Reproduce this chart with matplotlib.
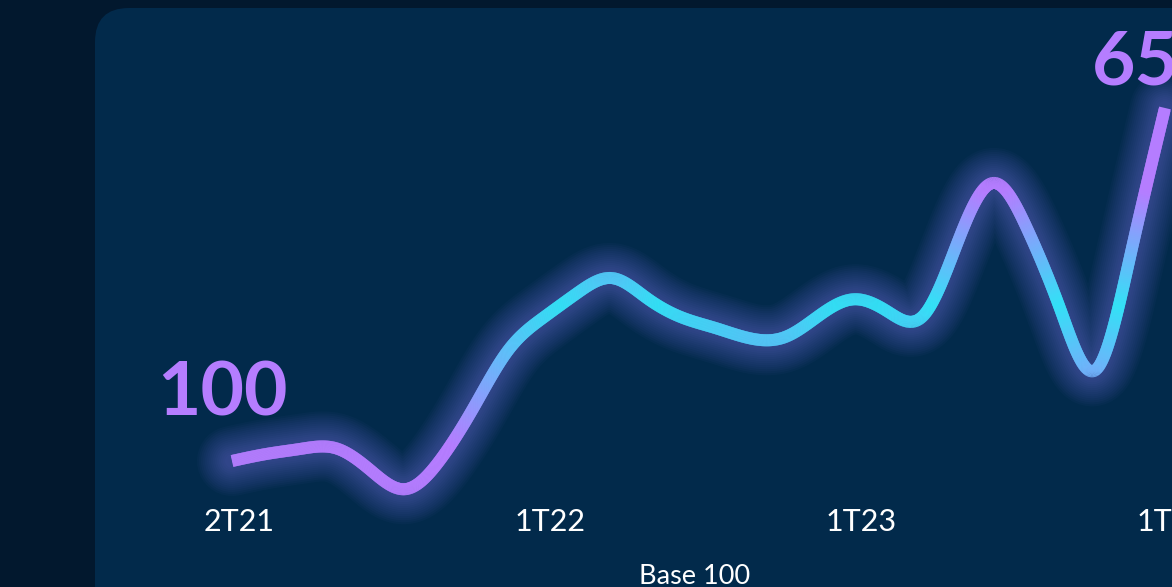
import numpy as np
import matplotlib
matplotlib.use("Agg")
import matplotlib.pyplot as plt
from matplotlib.collections import LineCollection
from matplotlib.colors import LinearSegmentedColormap, Normalize
from matplotlib.patches import FancyBboxPatch
from matplotlib.transforms import IdentityTransform, ScaledTranslation, blended_transform_factory

# ---- data (index, base 100) ----
periods = list(range(28))
values = [100, 111, 119, 120, 86, 56, 100, 184, 273, 323, 362, 385, 354, 324,
          307, 291, 293, 327, 352, 332, 326, 441, 533, 463, 332, 242, 421, 650]
tick_positions = [0, 9, 18, 27]
tick_labels = ["2T21", "1T22", "1T23", "1T24"]
axis_title = "Base 100"

# ---- style ----
BG_OUTER = "#02182e"
BG_PANEL = "#022a4b"
PURPLE = "#b57dff"
CYAN = "#33e1f6"
GLOW = "#8a80ff"
TEXT = "#ffffff"

W, H = 1172, 587
fig = plt.figure(figsize=(W / 100, H / 100), dpi=100)
fig.patch.set_facecolor(BG_OUTER)

panel = FancyBboxPatch((95, -100), 1300, (H - 8) + 100,
                       boxstyle="round,pad=0,rounding_size=34",
                       transform=IdentityTransform(), facecolor=BG_PANEL,
                       edgecolor="none", zorder=0)
fig.add_artist(panel)

ax = fig.add_axes([0, 0, 1, 1])
ax.set_facecolor("none")
ax.axis("off")

# layout in pixels
X0_PX, XSTEP_PX = 232, 34.556
Y100_PX, VAL_PER_PX = 461, 1.558
ax.set_xlim(-X0_PX / XSTEP_PX, (W - X0_PX) / XSTEP_PX)
ax.set_ylim(100 - (H - Y100_PX) * VAL_PER_PX, 100 + Y100_PX * VAL_PER_PX)

# natural cubic spline through the points (drawing only)
x = np.asarray(periods, float)
y = np.asarray(values, float)
n = len(x)
A = np.zeros((n, n))
b = np.zeros(n)
A[0, 0] = A[-1, -1] = 1.0
for i in range(1, n - 1):
    A[i, i - 1], A[i, i], A[i, i + 1] = 1.0, 4.0, 1.0
    b[i] = 6.0 * (y[i + 1] - 2 * y[i] + y[i - 1])
M = np.linalg.solve(A, b)
xs, ys = [], []
for i in range(n - 1):
    t = np.linspace(0, 1, 80, endpoint=False)
    seg = ((1 - t) * y[i] + t * y[i + 1]
           + ((1 - t) ** 3 - (1 - t)) * M[i] / 6.0
           + (t ** 3 - t) * M[i + 1] / 6.0)
    xs.append(x[i] + t)
    ys.append(seg)
xs.append([x[-1]])
ys.append([y[-1]])
xs = np.concatenate(xs)
ys = np.concatenate(ys)

# glow
for w in range(14, 72, 4):
    ax.plot(xs, ys, color=GLOW, lw=w * 0.72, alpha=0.03, solid_capstyle="round",
            solid_joinstyle="round", zorder=2)

# gradient line
cmap = LinearSegmentedColormap.from_list("pc", [(0, PURPLE), (0.55, CYAN), (1, PURPLE)])
norm = Normalize(vmin=125, vmax=522, clip=True)
pts = np.column_stack([xs, ys])
segs = np.stack([pts[:-2], pts[2:]], axis=1)
cvals = (ys[:-2] + ys[2:]) / 2
lc = LineCollection(segs, colors=cmap(norm(cvals)), linewidths=8.6,
                    capstyle="butt", joinstyle="round", zorder=3)
ax.add_collection(lc)

# value labels at start and end
ax.annotate(f"{values[0]}", (periods[0], values[0]), xytext=(-10, 45),
            textcoords="offset pixels", ha="center", va="baseline",
            fontsize=54, fontweight="bold", family="Lato", color=PURPLE, zorder=4)
ax.annotate(f"{values[-1]}", (periods[-1], values[-1]), xytext=(-8, 22),
            textcoords="offset pixels", ha="center", va="baseline",
            fontsize=54, fontweight="bold", family="Lato", color=PURPLE, zorder=4)

# tick labels
trans = blended_transform_factory(ax.transData, fig.transFigure) + \
    ScaledTranslation(7 / 100, 0, fig.dpi_scale_trans)
for p, lab in zip(tick_positions, tick_labels):
    ax.text(p, (H - 531) / H, lab, transform=trans, ha="center", va="baseline",
            fontsize=22, family="Lato", color=TEXT, zorder=4)

fig.text(695 / W, 3 / H, axis_title, ha="center", va="baseline",
         fontsize=19.5, family="Lato", color=TEXT)

fig.savefig("out.png", dpi=100, facecolor=fig.get_facecolor())
